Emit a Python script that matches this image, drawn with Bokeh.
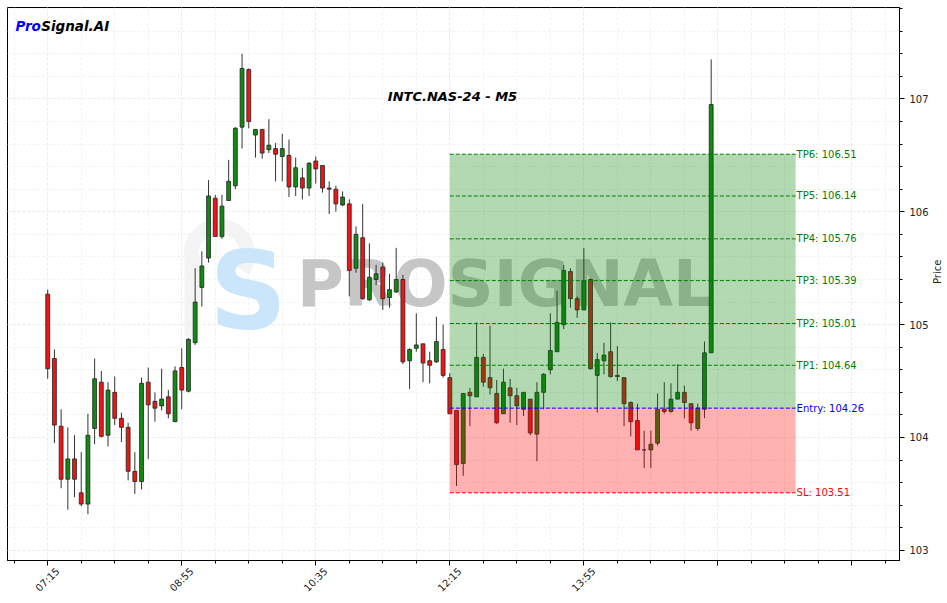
import math
from bokeh.plotting import figure
from bokeh.models import ColumnDataSource, FixedTicker, Range1d, LinearAxis
from bokeh.core.properties import value
from bokeh.embed import file_html
from bokeh.resources import INLINE

# ---------------- data ----------------
opens = [105.27, 104.70, 104.10, 103.63, 103.81, 103.51, 103.41, 104.08, 104.49, 104.02,
         104.40, 104.17, 104.09, 103.70, 103.61, 104.49, 104.32, 104.28, 104.36, 104.14,
         104.62, 104.41, 104.84, 105.33, 105.59, 106.12, 105.78, 106.10, 106.23, 106.75,
         107.26, 106.68, 106.73, 106.55, 106.56, 106.49, 106.50, 106.22, 106.30, 106.21,
         106.45, 106.41, 106.21, 106.20, 106.06, 106.07, 105.50, 105.77, 105.22, 105.40,
         105.51, 105.24, 105.29, 105.40, 104.68, 104.79, 104.83, 104.68, 104.67, 104.78,
         104.53, 104.24, 103.77, 104.40, 104.36, 104.71, 104.53, 104.39, 104.21, 104.44,
         104.37, 104.25, 104.34, 104.03, 104.40, 104.60, 104.76, 105.00, 105.47, 105.23,
         105.13, 105.40, 104.55, 104.68, 104.76, 104.55, 104.53, 104.31, 104.15, 103.89,
         103.89, 103.95, 104.25, 104.23, 104.34, 104.40, 104.30, 104.08, 104.25, 104.75]
highs = [105.31, 104.78, 104.25, 104.09, 104.02, 103.87, 104.21, 104.70, 104.59, 104.49,
         104.54, 104.22, 104.13, 103.87, 104.53, 104.62, 104.40, 104.61, 104.42, 104.63,
         104.79, 104.88, 105.50, 105.65, 106.28, 106.15, 106.15, 106.46, 106.75, 107.40,
         107.27, 106.73, 106.73, 106.82, 106.61, 106.69, 106.64, 106.48, 106.39, 106.44,
         106.49, 106.41, 106.27, 106.23, 106.18, 106.11, 105.87, 106.07, 105.72, 105.53,
         105.55, 105.45, 105.68, 105.44, 104.79, 105.10, 104.83, 104.76, 105.07, 105.00,
         104.57, 104.24, 104.39, 104.44, 105.02, 104.74, 104.99, 104.51, 104.61, 104.52,
         104.44, 104.40, 104.34, 104.49, 104.57, 105.10, 105.30, 105.53, 105.50, 105.25,
         105.68, 105.41, 104.75, 104.84, 105.02, 104.81, 104.53, 104.32, 104.30, 104.06,
         104.06, 104.39, 104.49, 104.48, 104.65, 104.46, 104.30, 104.30, 104.85, 107.35]
lows = [104.52, 103.95, 103.55, 103.36, 103.47, 103.39, 103.32, 103.94, 104.00, 103.92,
        104.11, 103.96, 103.62, 103.50, 103.54, 103.81, 104.14, 104.24, 104.17, 104.14,
        104.25, 104.40, 104.82, 105.16, 105.55, 105.78, 105.76, 106.10, 106.20, 106.56,
        106.74, 106.48, 106.47, 106.52, 106.27, 106.27, 106.13, 106.14, 106.11, 106.14,
        106.25, 106.17, 105.98, 106.00, 106.05, 105.25, 105.46, 105.22, 105.21, 105.35,
        105.13, 105.15, 105.28, 104.65, 104.43, 104.76, 104.49, 104.48, 104.66, 104.53,
        104.21, 103.57, 103.66, 104.10, 104.36, 104.45, 104.38, 104.12, 104.21, 104.13,
        104.11, 104.19, 104.02, 103.79, 104.25, 104.56, 104.76, 104.96, 105.15, 105.06,
        105.13, 104.60, 104.22, 104.56, 104.53, 104.50, 104.10, 104.01, 103.89, 103.73,
        103.73, 103.93, 104.21, 104.22, 104.34, 104.17, 104.06, 104.06, 104.17, 104.75]
closes = [104.61, 104.11, 103.63, 103.81, 103.63, 103.41, 104.02, 104.52, 104.01, 104.42,
          104.17, 104.09, 103.70, 103.61, 104.48, 104.29, 104.26, 104.34, 104.21, 104.59,
          104.42, 104.87, 105.20, 105.52, 106.14, 105.78, 106.05, 106.27, 106.74, 107.27,
          106.80, 106.73, 106.52, 106.59, 106.51, 106.56, 106.22, 106.39, 106.21, 106.43,
          106.38, 106.21, 106.20, 106.07, 106.13, 105.48, 105.80, 105.23, 105.42, 105.45,
          105.23, 105.31, 105.40, 104.67, 104.78, 104.82, 104.66, 104.64, 104.85, 104.55,
          104.21, 103.76, 104.39, 104.37, 104.71, 104.49, 104.44, 104.13, 104.49, 104.37,
          104.28, 104.40, 104.04, 104.40, 104.56, 104.77, 105.02, 105.48, 105.23, 105.13,
          105.39, 104.61, 104.69, 104.73, 104.54, 104.54, 104.30, 104.14, 103.89, 103.89,
          103.94, 104.25, 104.23, 104.34, 104.40, 104.31, 104.13, 104.26, 104.75, 106.95]

tick_index = [0, 20, 40, 60, 80, 100, 120]
tick_labels = ["07:15", "08:55", "10:35", "12:15", "13:55", "", ""]

chart_title = "INTC.NAS-24 - M5"
entry_price = 104.26
stop_loss = 103.51
take_profits = [104.64, 105.01, 105.39, 105.76, 106.14, 106.51]
zone_start = 60
zone_end = 111.6

FONT = "DejaVu Sans"
Y0, Y1 = 102.91, 107.81
LABEL_SHIFT = 1.5   # matplotlib centres rotated labels on the tick; bokeh right-aligns them

# ---------------- figure ----------------
p = figure(frame_width=892, frame_height=553,
           x_range=Range1d(-6.0, 127.1), y_range=Range1d(Y0, Y1),
           y_axis_location="right", output_backend="svg", toolbar_location=None,
           min_border_left=7, min_border_top=7, min_border_right=4, min_border_bottom=2,
           background_fill_color="white", border_fill_color="white")
p.outline_line_color = "black"
p.outline_line_width = 1

# axes
xt = FixedTicker(ticks=tick_index, minor_ticks=list(range(-5, 130, 5)))
yt = FixedTicker(ticks=[103, 104, 105, 106, 107],
                 minor_ticks=[round(102.8 + 0.2 * k, 1) for k in range(26)])
p.xaxis.ticker = xt
p.yaxis.ticker = yt
p.xgrid.ticker = xt
p.ygrid.ticker = yt
p.xaxis.major_label_overrides = {i: "" for i in tick_index}
for ax in (p.xaxis[0], p.yaxis[0]):
    ax.axis_line_color = "black"
    ax.major_tick_line_color = "black"
    ax.minor_tick_line_color = "black"
    ax.major_tick_in = 0
    ax.major_tick_out = 5
    ax.minor_tick_in = 0
    ax.minor_tick_out = 3
    ax.major_label_text_font = FONT
    ax.major_label_text_font_size = "10px"
    ax.major_label_text_color = "#222222"
p.xaxis.major_label_standoff = 0

# second, line-less axis that only carries the time labels
shifted = [i + LABEL_SHIFT for i, lab in zip(tick_index, tick_labels) if lab]
lab_axis = LinearAxis(ticker=FixedTicker(ticks=shifted, minor_ticks=[]),
                      major_label_overrides={s: lab for s, lab in zip(shifted, [l for l in tick_labels if l])},
                      major_label_orientation=math.pi / 4,
                      axis_line_alpha=0, major_tick_line_alpha=0, minor_tick_line_alpha=0,
                      major_tick_in=0, major_tick_out=0, minor_tick_in=0, minor_tick_out=0,
                      major_label_standoff=4,
                      major_label_text_font=FONT, major_label_text_font_size="10px",
                      major_label_text_color="#222222")
p.add_layout(lab_axis, "below")

p.yaxis.axis_label = "Price"
p.yaxis.axis_label_text_font = FONT
p.yaxis.axis_label_text_font_size = "10px"
p.yaxis.axis_label_text_font_style = "normal"
p.yaxis.axis_label_text_color = "#222222"
p.yaxis.axis_label_standoff = 6
p.yaxis.axis_label_orientation = math.pi / 2

for g in (p.xgrid[0], p.ygrid[0]):
    g.grid_line_color = "#ececec"
    g.grid_line_dash = "3 2"
    g.minor_grid_line_color = "#f1f1f1"
    g.minor_grid_line_dash = "3 2"

# ---------------- watermark ----------------
p.annular_wedge(x=[25.6], y=[105.62], inner_radius=21, outer_radius=36,
                inner_radius_units="screen", outer_radius_units="screen",
                start_angle=-0.6, end_angle=math.pi, fill_color="#f0f0f0",
                line_color=None, fill_alpha=0.7)
p.quad(left=[20.4], right=[22.8], top=[105.62], bottom=[104.9],
       fill_color="#f0f0f0", line_color=None, fill_alpha=0.7)
p.text(x=[29.9], y=[105.30], text=["S"], text_font=value(FONT),
       text_font_size="108px", text_font_style="bold", text_color="#cbe6fb",
       text_align="center", text_baseline="middle")
p.text(x=[68.3], y=[105.36], text=["PROSIGNAL"], text_font=value(FONT),
       text_font_size="64px", text_font_style="bold", text_color="#c6c6c6",
       text_align="center", text_baseline="middle")

# ---------------- candles ----------------
idx = list(range(len(opens)))
up = [c >= o for o, c in zip(opens, closes)]
src = ColumnDataSource(dict(
    x=idx, high=highs, low=lows,
    top=[max(o, c) for o, c in zip(opens, closes)],
    bottom=[min(o, c) for o, c in zip(opens, closes)],
    color=["#108a10" if u else "#f01414" for u in up],
))
p.segment(x0="x", y0="low", x1="x", y1="high", source=src, line_color="#333333", line_width=1)
p.vbar(x="x", width=0.58, top="top", bottom="bottom", source=src,
       fill_color="color", line_color="#222222", line_width=0.8)

# ---------------- trade zones ----------------
p.quad(left=[zone_start], right=[zone_end], bottom=[entry_price], top=[take_profits[-1]],
       fill_color="green", fill_alpha=0.3, line_color=None)
p.quad(left=[zone_start], right=[zone_end], bottom=[stop_loss], top=[entry_price],
       fill_color="red", fill_alpha=0.3, line_color=None)

levels = take_profits + [entry_price, stop_loss]
level_colors = ["green"] * len(take_profits) + ["blue", "red"]
level_labels = [f"TP{i + 1}: {v:.2f}" for i, v in enumerate(take_profits)] + \
               [f"Entry: {entry_price:.2f}", f"SL: {stop_loss:.2f}"]
lsrc = ColumnDataSource(dict(x0=[zone_start] * len(levels), x1=[zone_end] * len(levels),
                             y=levels, color=level_colors, label=level_labels))
p.segment(x0="x0", y0="y", x1="x1", y1="y", source=lsrc, line_color="color",
          line_width=1, line_dash="4 2")
p.text(x="x1", y="y", text="label", source=lsrc, text_color="color",
       text_font=value(FONT), text_font_size="10px", text_align="left",
       text_baseline="middle", x_offset=1)

# ---------------- titles ----------------
p.text(x=[60.4], y=[107.02], text=[chart_title], text_font=value(FONT),
       text_font_size="13px", text_font_style="bold italic", text_color="black",
       text_align="center", text_baseline="middle")
p.text(x=[-4.82], y=[107.646], text=["Pro"], text_font=value(FONT),
       text_font_size="13.5px", text_font_style="bold italic", text_color="blue",
       text_align="left", text_baseline="alphabetic")
p.text(x=[-0.97], y=[107.646], text=["Signal.AI"], text_font=value(FONT),
       text_font_size="13.5px", text_font_style="bold italic", text_color="black",
       text_align="left", text_baseline="alphabetic")

open("out.html", "w").write(file_html(p, INLINE))
